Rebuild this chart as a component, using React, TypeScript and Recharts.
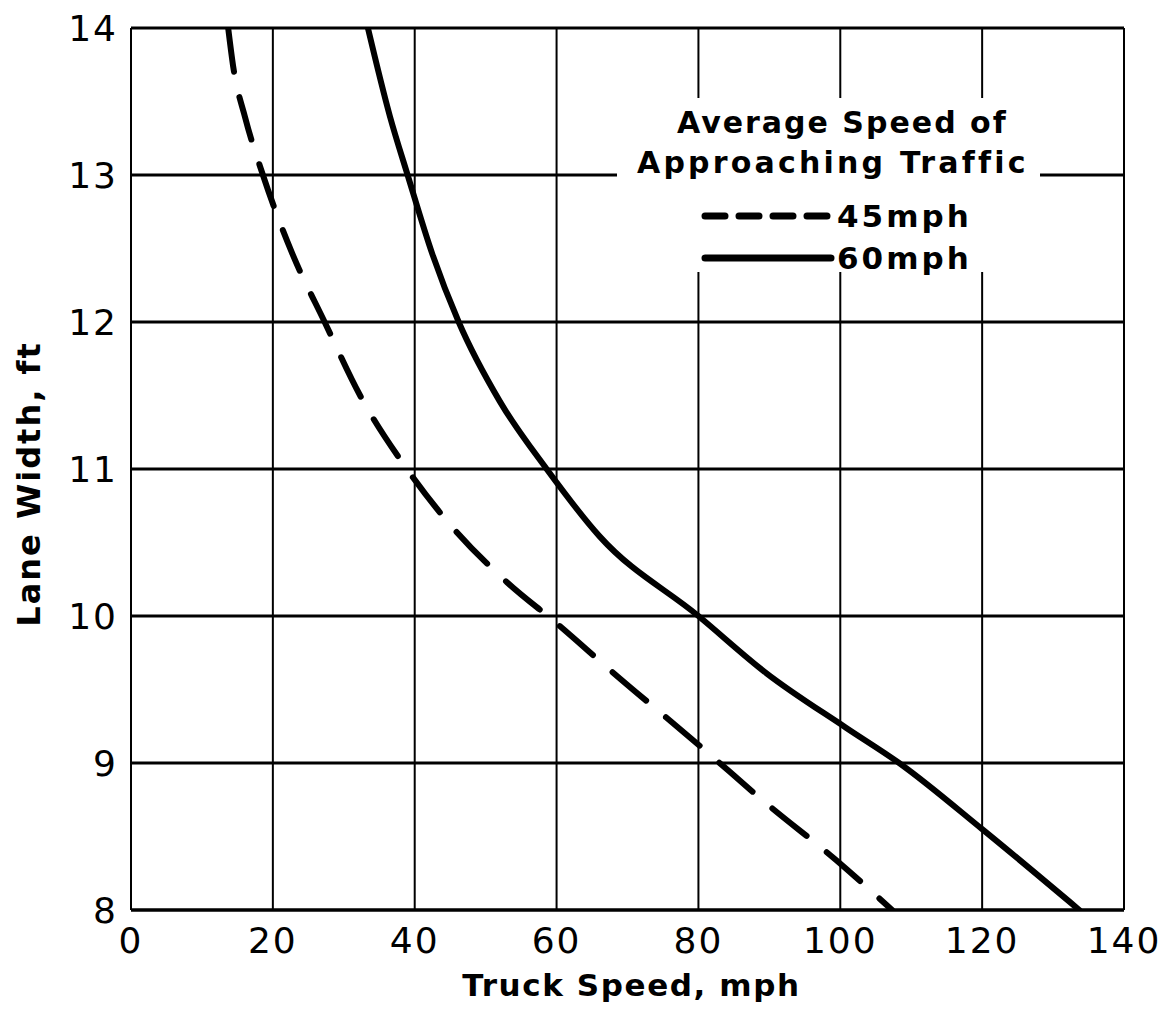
import { LineChart, Line, XAxis, YAxis, CartesianGrid, Legend } from "recharts";

// truck speed (mph) vs. required lane width (ft), per approaching traffic speed
const speeds45 = [13.7, 14.4, 16.1, 18.6, 22.7, 27.3, 32.3, 38.9, 45.2, 53, 60, 67.6, 80.6, 89.7, 99.4, 107.3];
const widths45 = [14, 13.74, 13.39, 13, 12.47, 12, 11.5, 11, 10.61, 10.23, 9.95, 9.63, 9.1, 8.72, 8.34, 8];

const speeds60 = [33.4, 36.5, 39, 42.5, 46.2, 52, 58.6, 66.1, 80, 89.6, 100.8, 108.3, 120, 133.7];
const widths60 = [14, 13.4, 13, 12.46, 12, 11.46, 11, 10.54, 10, 9.61, 9.24, 9, 8.55, 8];

const xTicks = [0, 20, 40, 60, 80, 100, 120, 140];
const yTicks = [8, 9, 10, 11, 12, 13, 14];

const series = [
  { name: "45mph", speeds: speeds45, widths: widths45, dash: "44 26" },
  { name: "60mph", speeds: speeds60, widths: widths60, dash: undefined },
];

const FONT = "'DejaVu Sans', sans-serif";
const INK = "#000";

const titleLine = { position: "absolute" as const, fontSize: 30, lineHeight: "34px", whiteSpace: "nowrap" as const };

const LegendBox = () => (
  <div
    style={{
      width: "100%",
      height: "100%",
      background: "#fff",
      fontFamily: FONT,
      fontWeight: 700,
      color: INK,
      position: "relative",
    }}
  >
    <div style={{ ...titleLine, left: 60, top: 8, letterSpacing: 2 }}>Average Speed of</div>
    <div style={{ ...titleLine, left: 20, top: 48, letterSpacing: 3.2 }}>Approaching Traffic</div>
    {series.map((s, i) => (
      <div
        key={s.name}
        style={{ position: "absolute", left: 84, top: 100 + i * 42, height: 36, display: "flex", alignItems: "center" }}
      >
        <svg width={134} height={12}>
          <line
            x1={4}
            y1={6}
            x2={130}
            y2={6}
            stroke={INK}
            strokeWidth={7}
            strokeLinecap="round"
            strokeDasharray={s.dash ? "20 14" : undefined}
          />
        </svg>
        <span style={{ fontSize: 31, letterSpacing: 3, marginLeft: 2 }}>{s.name}</span>
      </div>
    ))}
  </div>
);

export default function App() {
  return (
    <div style={{ position: "absolute", left: 0, top: 0, background: "#fff" }}>
      <LineChart width={1167} height={1010} margin={{ top: 28, right: 43, bottom: 10, left: 0 }}>
        <CartesianGrid horizontal={false} vertical stroke={INK} strokeWidth={2} />
        <CartesianGrid horizontal vertical={false} stroke={INK} strokeWidth={3} />
        <XAxis
          type="number"
          dataKey="speed"
          domain={[0, 140]}
          ticks={xTicks}
          allowDataOverflow
          height={90}
          axisLine={{ stroke: INK, strokeWidth: 3 }}
          tickLine={false}
          tickMargin={11}
          tick={{ fontSize: 36, fontFamily: FONT, fill: INK, letterSpacing: 2 }}
          label={{
            value: "Truck Speed, mph",
            position: "insideBottom",
            offset: 4,
            dx: 4,
            style: { fontSize: 31, fontFamily: FONT, fontWeight: 700, fill: INK, letterSpacing: 1.6 },
          }}
        />
        <YAxis
          type="number"
          dataKey="width"
          domain={[8, 14]}
          ticks={yTicks}
          allowDataOverflow
          width={131}
          axisLine={{ stroke: INK, strokeWidth: 2 }}
          tickLine={false}
          tickMargin={7}
          tick={{ fontSize: 36, fontFamily: FONT, fill: INK, letterSpacing: 2 }}
          label={() => (
            <text
              x={29}
              y={484}
              transform="rotate(-90 29 484)"
              textAnchor="middle"
              dominantBaseline="central"
              fontSize={32}
              fontFamily={FONT}
              fontWeight={700}
              letterSpacing={2}
              fill={INK}
            >
              Lane Width, ft
            </text>
          )}
        />
        <Legend
          layout="vertical"
          align="center"
          verticalAlign="middle"
          content={() => <LegendBox />}
          wrapperStyle={{ left: 617, top: 98, width: 423, height: 174 }}
        />
        {series.map((s) => (
          <Line
            key={s.name}
            name={s.name}
            data={s.speeds.map((v, i) => ({ speed: v, width: s.widths[i] }))}
            dataKey="width"
            type="monotone"
            stroke={INK}
            strokeWidth={6}
            strokeDasharray={s.dash}
            strokeLinecap="round"
            dot={false}
            isAnimationActive={false}
          />
        ))}
      </LineChart>
    </div>
  );
}
